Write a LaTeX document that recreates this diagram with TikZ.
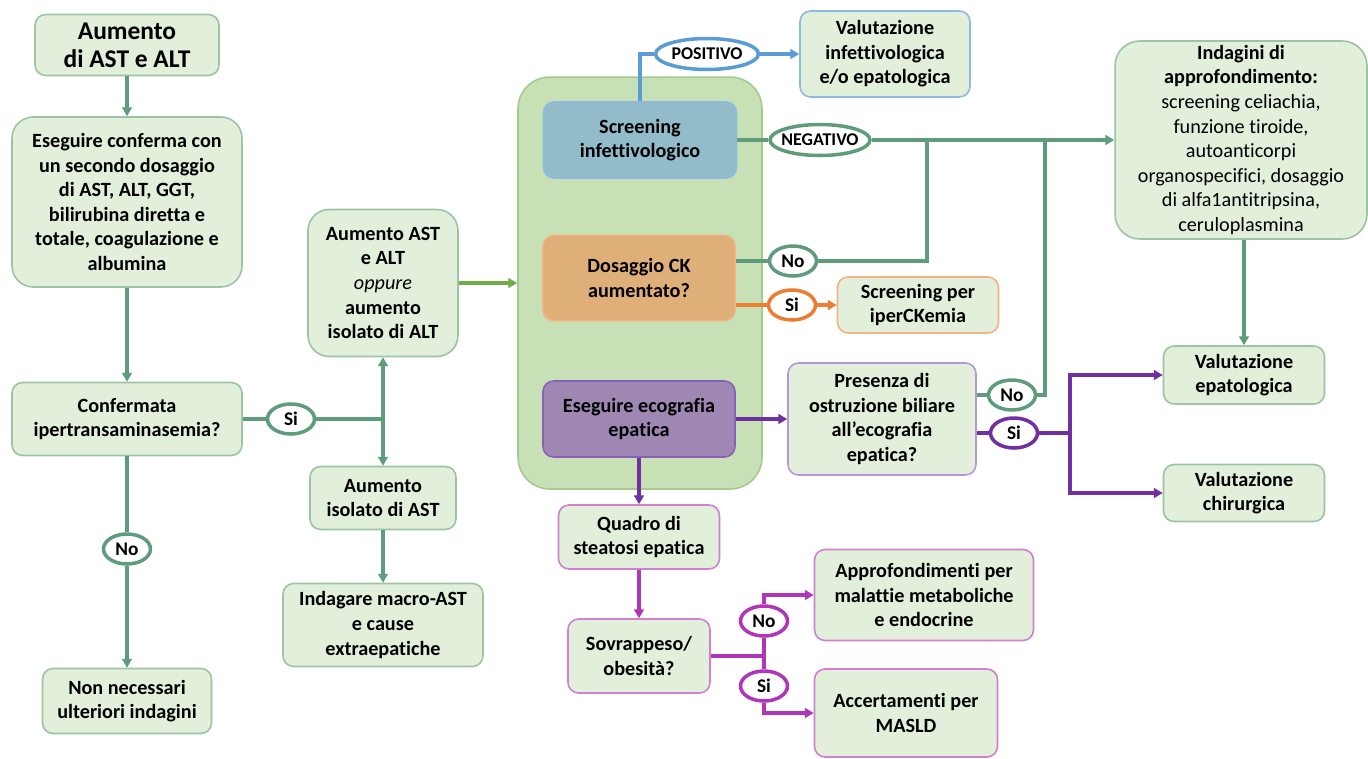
\documentclass[tikz,border=0pt]{standalone}
\usepackage{fontspec}
\setmainfont{Carlito}[Ligatures=NoCommon]
\usetikzlibrary{arrows.meta,positioning,shapes.geometric}
\definecolor{lightgreen}{HTML}{E2EFDA}
\definecolor{boxgreen}{HTML}{9CC3A4}
\definecolor{linkgreen}{HTML}{5E9C7C}
\definecolor{lightlink}{HTML}{70AD47}
\definecolor{contfill}{HTML}{C8E0B6}
\definecolor{contborder}{HTML}{A3CB8E}
\definecolor{bluefill}{HTML}{93BCCB}
\definecolor{blueborder}{HTML}{8DB9E3}
\definecolor{bluelink}{HTML}{5B9BD5}
\definecolor{orangefill}{HTML}{DEAF78}
\definecolor{orangeborder}{HTML}{F4B183}
\definecolor{orangelink}{HTML}{ED7D31}
\definecolor{purplefill}{HTML}{9F87B3}
\definecolor{purpleborder}{HTML}{8A5FB8}
\definecolor{purplelink}{HTML}{7030A0}
\definecolor{purplelight}{HTML}{B894DA}
\definecolor{magborder}{HTML}{D27ED2}
\definecolor{maglink}{HTML}{B035B8}

\begin{document}
\begin{tikzpicture}[x=0.02cm,y=-0.02cm,
 box/.style={rounded corners=6pt,draw=boxgreen,fill=lightgreen,line width=0.9pt,align=center,
  inner sep=2pt,font=\fontsize{11.5}{14}\selectfont\bfseries},
 tag/.style={ellipse,draw=#1,fill=white,line width=2pt,inner sep=0pt,
  minimum width=0.94cm,minimum height=0.6cm,font=\fontsize{11}{13}\selectfont\bfseries},
 widetag/.style={tag=#1,inner xsep=-4pt,minimum width=2cm,minimum height=0.62cm,
  font=\fontsize{10.2}{12}\selectfont\bfseries},
 link/.style={draw=#1,line width=1.8pt},
 tip/.style={-{Triangle[length=5pt,width=5.5pt]}}]
\useasboundingbox (0,0) rectangle (1368,758);

% left column
\node[box,minimum width=3.68cm,minimum height=1.22cm,font=\fontsize{14.5}{16}\selectfont\bfseries]
 (aumento) at (127,45) {Aumento\\di AST e ALT};
\node[box,rounded corners=12pt,minimum width=4.6cm,minimum height=3.4cm] (conferma) at (127,202)
 {Eseguire conferma con\\un secondo dosaggio\\di AST, ALT, GGT,\\bilirubina diretta e\\totale, coagulazione e\\albumina};
\node[box,minimum width=4.6cm,minimum height=1.46cm] (confermata) at (127,419) {Confermata\\ipertransaminasemia?};
\node[box,minimum width=3.38cm,minimum height=1.3cm] (nonnec) at (127,701) {Non necessari\\ulteriori indagini};
\node[tag=linkgreen] (confno) at (127,549) {No};
\node[tag=linkgreen] (confsi) at (291,419) {Si};
\coordinate (split) at (383,419);

% second column
\node[box,rounded corners=12pt,minimum width=3cm,minimum height=2.94cm] (altup) at (383,283)
 {Aumento AST\\e ALT\\{\mdseries\itshape oppure}\\aumento\\isolato di ALT};
\node[box,minimum width=2.92cm,minimum height=1.26cm] (astup) at (383,498) {Aumento\\isolato di AST};
\node[box,minimum width=4cm,minimum height=1.66cm] (macro) at (383,625) {Indagare macro-AST\\e cause\\extraepatiche};

% central panel
\node[draw=contborder,fill=contfill,rounded corners=18pt,line width=0.9pt,
 minimum width=4.88cm,minimum height=8.24cm] (panel) at (640,283) {};
\node[box,draw=blueborder,fill=bluefill,minimum width=3.86cm,minimum height=1.52cm] (infett) at (640,140)
 {Screening\\infettivologico};
\node[box,draw=orangeborder,fill=orangefill,minimum width=3.84cm,minimum height=1.7cm] (ck) at (639,278)
 {Dosaggio CK\\aumentato?};
\node[box,draw=purpleborder,fill=purplefill,minimum width=3.84cm,minimum height=1.52cm] (eco) at (639,419)
 {Eseguire ecografia\\epatica};

% branches of the panel
\node[box,draw=blueborder,minimum width=3.4cm,minimum height=1.72cm] (valinf) at (885,54)
 {Valutazione\\infettivologica\\e/o epatologica};
\node[widetag=bluelink,minimum width=2.06cm] (pos) at (707,54) {POSITIVO};
\node[widetag=linkgreen] (neg) at (820,140) {NEGATIVO};
\node[tag=linkgreen] (ckno) at (793,261) {No};
\node[tag=orangelink] (cksi) at (792,305) {Si};
\node[box,draw=orangeborder,minimum width=3.22cm,minimum height=1.12cm] (iperck) at (918,305)
 {Screening per\\iperCKemia};
\node[box,draw=purplelight,minimum width=3.76cm,minimum height=2.24cm] (ostruz) at (882,419)
 {Presenza di\\ostruzione biliare\\all’ecografia\\epatica?};
\node[tag=linkgreen] (ostrno) at (1012,395) {No};
\node[tag=purplelink] (ostrsi) at (1014,433) {Si};
\coordinate (negA) at (927,140);
\coordinate (negB) at (1045,140);
\coordinate (sisplit) at (1070,433);

% right column
\node[box,rounded corners=14pt,minimum width=5.04cm,minimum height=3.96cm,font=\fontsize{11.5}{14}\selectfont]
 (indagini) at (1241,140) {\textbf{Indagini di}\\\textbf{approfondimento:}\\screening celiachia,\\funzione tiroide,\\
 autoanticorpi\\organospecifici, dosaggio\\di alfa1antitripsina,\\ceruloplasmina};
\node[box,minimum width=3.22cm,minimum height=1.16cm] (valepa) at (1244,375) {Valutazione\\epatologica};
\node[box,minimum width=3.22cm,minimum height=1.14cm] (valchir) at (1244,493) {Valutazione\\chirurgica};

% steatosis branch
\node[box,draw=magborder,minimum width=3.22cm,minimum height=1.28cm] (steatosi) at (639,537)
 {Quadro di\\steatosi epatica};
\node[box,draw=magborder,minimum width=2.84cm,minimum height=1.48cm] (sovrap) at (639,656)
 {Sovrappeso/\\obesità?};
\node[tag=maglink] (sovno) at (764,621) {No};
\node[tag=maglink] (sovsi) at (764,686) {Si};
\coordinate (sovsplit) at (764,656);
\node[box,draw=magborder,minimum width=4.38cm,minimum height=1.82cm] (metab) at (924,595)
 {Approfondimenti per\\malattie metaboliche\\e endocrine};
\node[box,draw=magborder,minimum width=3.66cm,minimum height=1.76cm] (masld) at (906,713)
 {Accertamenti per\\MASLD};

% connectors
\draw[link=linkgreen,tip] (aumento) -- (conferma);
\draw[link=linkgreen,tip] (conferma) -- (confermata);
\draw[link=linkgreen] (confermata) -- (confno);
\draw[link=linkgreen,tip] (confno) -- (nonnec);
\draw[link=linkgreen] (confermata) -- (confsi) -- (split);
\draw[link=linkgreen,tip] (split) -- (altup);
\draw[link=linkgreen,tip] (split) -- (astup);
\draw[link=linkgreen,tip] (astup) -- (macro);
\draw[link=lightlink,tip] (altup) -- (panel);
\draw[link=bluelink] (infett) |- (pos);
\draw[link=bluelink,tip] (pos) -- (valinf);
\draw[link=linkgreen] (infett) -- (neg);
\draw[link=linkgreen,tip] (neg) -- (indagini);
\draw[link=linkgreen] (ck.east |- ckno) -- (ckno) -| (negA);
\draw[link=orangelink] (ck.east |- cksi) -- (cksi);
\draw[link=orangelink,tip] (cksi) -- (iperck);
\draw[link=purplelink,tip] (eco) -- (ostruz);
\draw[link=linkgreen] (ostruz.east |- ostrno) -- (ostrno) -| (negB);
\draw[link=purplelink] (ostruz.east |- ostrsi) -- (ostrsi) -- (sisplit);
\draw[link=purplelink,tip] (sisplit) |- (valepa);
\draw[link=purplelink,tip] (sisplit) |- (valchir);
\draw[link=linkgreen,tip] (indagini.south -| valepa) -- (valepa);
\draw[link=purplelink,tip] (eco) -- (steatosi);
\draw[link=maglink,tip] (steatosi) -- (sovrap);
\draw[link=maglink] (sovrap) -- (sovsplit);
\draw[link=maglink] (sovsplit) -- (sovno);
\draw[link=maglink,tip] (sovno) |- (metab);
\draw[link=maglink] (sovsplit) -- (sovsi);
\draw[link=maglink,tip] (sovsi) |- (masld);
\end{tikzpicture}
\end{document}
